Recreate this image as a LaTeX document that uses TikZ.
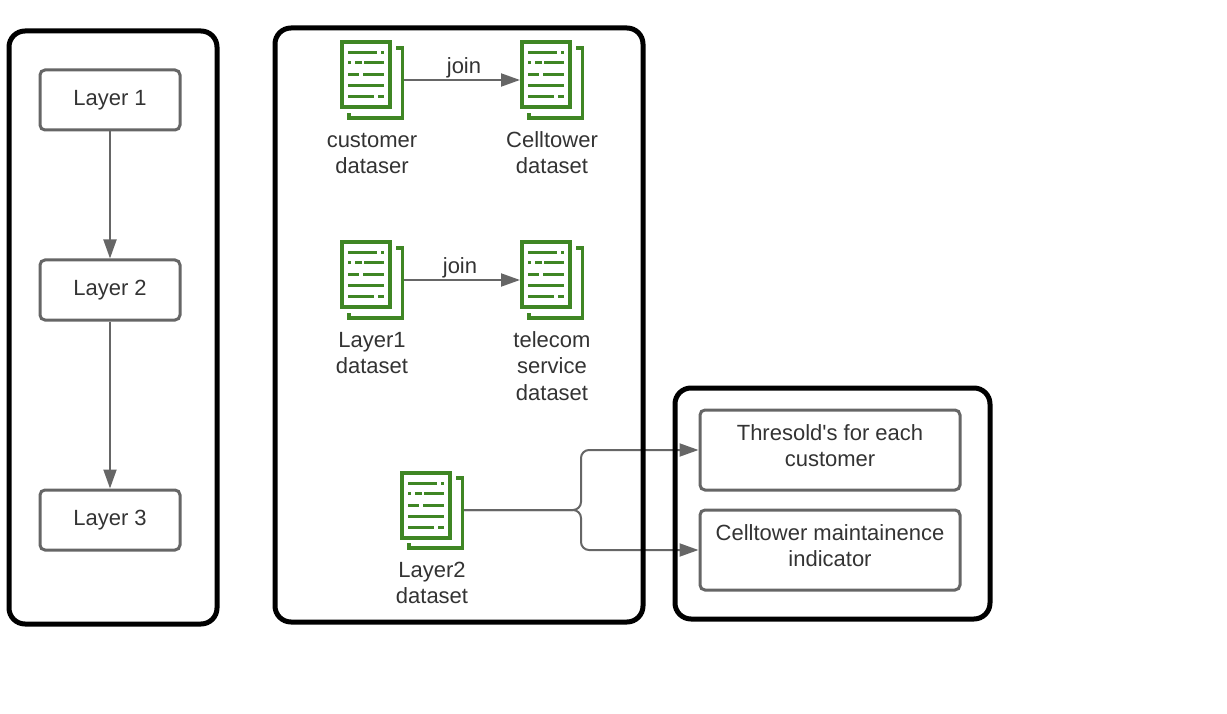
\documentclass[tikz,border=0pt]{standalone}
\usepackage{fontspec}
\setmainfont{Liberation Sans}
\usetikzlibrary{positioning, arrows.meta}
\definecolor{linegrey}{HTML}{666666}
\definecolor{textgrey}{HTML}{333333}
\definecolor{docgreen}{HTML}{3F8624}
\tikzset{frame/.style = {draw=black, line width=5pt, rounded corners=16pt, inner sep=0pt}}
\tikzset{layerbox/.style = {draw=linegrey, line width=3pt, rounded corners=5pt, minimum width=140pt, minimum height=60pt, text=textgrey, align=center}}
\tikzset{outbox/.style = {layerbox, minimum width=260pt, minimum height=80pt}}
\tikzset{docbox/.style = {minimum width=64pt, minimum height=80pt, inner sep=0pt, outer sep=0pt}}
\tikzset{doclabel/.style = {text=textgrey, align=center, inner sep=0pt}}
\tikzset{link/.style = {draw=linegrey, line width=2pt, ->}}
\tikzset{docicon/.pic = {
  \draw [docgreen, line width=4pt] (-30,-37.5) rectangle (17.5,27.5);
  \draw [docgreen, line width=3.4pt] (24,-32) -- (30.5,-32) -- (30.5,38) -- (-23,38) -- (-23,33);
  \draw [docgreen, line width=3pt]
    (-24,-27) -- (5,-27) (9,-27) -- (12,-27)
    (-24,-17) -- (-21,-17) (-17,-17) -- (-10,-17) (-8,-17) -- (12,-17)
    (-24,-5) -- (-13,-5) (-9,-5) -- (12,-5)
    (-24,6) -- (12,6)
    (-24,17) -- (2,17) (6,17) -- (12,17);
}}

\begin{document}
\begin{tikzpicture}[x=1pt, y=-1pt, >={Triangle[length=19pt, width=13pt]}, every node/.style={font=\fontsize{22}{26.5}\selectfont}]
  \useasboundingbox (0,0) rectangle (1227,714);

  % layers
  \node [layerbox] (layer1) at (110,100) {Layer 1};
  \node [layerbox, below=127pt of layer1] (layer2) {Layer 2};
  \node [layerbox, below=167pt of layer2] (layer3) {Layer 3};

  % datasets
  \node [docbox] (customer) at (372,80) {};
  \node [docbox, right=116pt of customer] (celltower) {};
  \node [docbox] (layer1set) at (372,280) {};
  \node [docbox, right=116pt of layer1set] (telecom) {};
  \node [docbox] (layer2set) at (432,510) {};
  \foreach \doc in {customer, celltower, layer1set, telecom, layer2set}
    \pic at (\doc) {docicon};

  \node [doclabel, below=8.5pt of customer] (customertext) {\strut customer\\dataser};
  \node [doclabel, below=8.5pt of celltower] (celltowertext) {\strut Celltower\\dataset};
  \node [doclabel, below=8.5pt of layer1set] (layer1text) {\strut Layer1\\dataset};
  \node [doclabel, below=8.5pt of telecom] (telecomtext) {\strut telecom\\service\\dataset};
  \node [doclabel, below=8.5pt of layer2set] (layer2text) {\strut Layer2\\dataset};

  % outputs
  \node [outbox] (thresold) at (830,450) {};
  \node [outbox] (indicator) at (830,550) {};
  \node [doclabel] (thresoldtext) at (830,445.5) {Thresold\textquotesingle s for each\\customer};
  \node [doclabel] (indicatortext) at (830,545.5) {Celltower maintainence\\indicator};

  \path[link] (layer1) -- (layer2);
  \path[link] (layer2) -- (layer3);
  \path[link] (customer) -- node [above=-2pt, text=textgrey, xshift=2pt] (join1) {join} (celltower);
  \path[link] (layer1set) -- node [above=-2pt, text=textgrey, xshift=-2pt] (join2) {join} (telecom);

  \coordinate (fork) at (581,510);
  \path[link, rounded corners=8pt] (layer2set) -- (fork) |- (thresold);
  \path[link, rounded corners=8pt] (layer2set) -- (fork) |- (indicator);

  % frames last, they lie over the links
  \node [frame, minimum width=208pt, minimum height=593pt] (layerframe) at (113,327.5) {};
  \node [frame, minimum width=368pt, minimum height=594pt] (dataframe) at (459,325) {};
  \node [frame, minimum width=315pt, minimum height=231pt] (outframe) at (832.5,503.5) {};
\end{tikzpicture}
\end{document}
